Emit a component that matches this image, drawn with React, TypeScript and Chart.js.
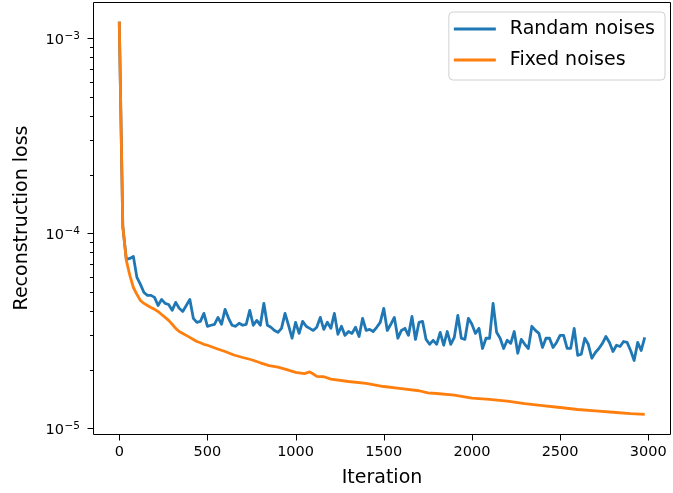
import React, { useEffect, useRef } from "react";
import { Chart, registerables } from "chart.js";

Chart.register(...registerables);

// ---------- data ----------
const iterations = [
  0, 20, 40, 60, 80, 100, 120, 140, 160, 180, 200, 220, 240, 260, 280, 300, 320, 340, 360, 380,
  400, 420, 440, 460, 480, 500, 520, 540, 560, 580, 600, 620, 640, 660, 680, 700, 720, 740, 760, 780,
  800, 820, 840, 860, 880, 900, 920, 940, 960, 980, 1000, 1020, 1040, 1060, 1080, 1100, 1120, 1140, 1160, 1180,
  1200, 1220, 1240, 1260, 1280, 1300, 1320, 1340, 1360, 1380, 1400, 1420, 1440, 1460, 1480, 1500, 1520, 1540, 1560, 1580,
  1600, 1620, 1640, 1660, 1680, 1700, 1720, 1740, 1760, 1780, 1800, 1820, 1840, 1860, 1880, 1900, 1920, 1940, 1960, 1980,
  2000, 2020, 2040, 2060, 2080, 2100, 2120, 2140, 2160, 2180, 2200, 2220, 2240, 2260, 2280, 2300, 2320, 2340, 2360, 2380,
  2400, 2420, 2440, 2460, 2480, 2500, 2520, 2540, 2560, 2580, 2600, 2620, 2640, 2660, 2680, 2700, 2720, 2740, 2760, 2780,
  2800, 2820, 2840, 2860, 2880, 2900, 2920, 2940, 2960, 2980,
];

const randomNoiseLoss = [
  1.22e-3, 1.086e-4, 7.36e-5, 7.44e-5, 7.62e-5, 5.95e-5, 5.48e-5, 4.98e-5, 4.81e-5, 4.81e-5,
  4.70e-5, 4.27e-5, 4.59e-5, 4.38e-5, 4.32e-5, 4.03e-5, 4.43e-5, 4.13e-5, 3.98e-5, 4.27e-5,
  4.59e-5, 3.67e-5, 3.50e-5, 3.54e-5, 3.89e-5, 3.34e-5, 3.38e-5, 3.42e-5, 3.71e-5, 3.42e-5,
  4.08e-5, 3.67e-5, 3.38e-5, 3.34e-5, 3.46e-5, 3.38e-5, 3.42e-5, 4.03e-5, 3.38e-5, 3.58e-5,
  3.38e-5, 4.38e-5, 3.38e-5, 3.30e-5, 3.18e-5, 3.11e-5, 3.26e-5, 3.89e-5, 3.38e-5, 2.90e-5,
  3.50e-5, 3.07e-5, 3.54e-5, 3.34e-5, 3.26e-5, 3.18e-5, 3.30e-5, 3.71e-5, 3.22e-5, 3.50e-5,
  3.26e-5, 3.89e-5, 3.04e-5, 3.34e-5, 3.00e-5, 3.14e-5, 3.07e-5, 3.30e-5, 2.96e-5, 3.67e-5,
  3.18e-5, 3.22e-5, 3.14e-5, 3.30e-5, 3.50e-5, 4.13e-5, 3.18e-5, 3.42e-5, 3.71e-5, 2.90e-5,
  3.18e-5, 3.26e-5, 3.00e-5, 3.75e-5, 2.86e-5, 3.50e-5, 3.54e-5, 2.86e-5, 2.70e-5, 2.83e-5,
  2.70e-5, 3.11e-5, 2.67e-5, 3.14e-5, 2.70e-5, 2.93e-5, 3.80e-5, 2.90e-5, 2.86e-5, 3.67e-5,
  3.42e-5, 3.07e-5, 3.26e-5, 2.57e-5, 2.90e-5, 2.90e-5, 4.38e-5, 3.11e-5, 2.90e-5, 2.57e-5,
  2.83e-5, 2.73e-5, 3.14e-5, 2.43e-5, 2.86e-5, 2.70e-5, 2.57e-5, 3.34e-5, 3.18e-5, 3.07e-5,
  2.60e-5, 2.90e-5, 2.90e-5, 2.60e-5, 2.76e-5, 3.00e-5, 3.00e-5, 2.57e-5, 2.57e-5, 3.26e-5,
  2.37e-5, 2.40e-5, 2.90e-5, 2.70e-5, 2.29e-5, 2.45e-5, 2.57e-5, 2.73e-5, 2.96e-5, 2.76e-5,
  2.48e-5, 2.67e-5, 2.63e-5, 2.79e-5, 2.76e-5, 2.51e-5, 2.23e-5, 2.76e-5, 2.51e-5, 2.93e-5,
];

const fixedIterations = [
  0, 20, 40, 60, 80, 100, 120, 140, 160, 180, 200, 220, 240, 260, 280, 300, 320, 340, 360, 380,
  400, 420, 440, 460, 480, 500, 550, 600, 650, 700, 750, 800, 850, 900, 950, 1000,
  1050, 1080, 1100, 1120, 1160, 1200, 1300, 1400, 1500, 1600, 1700, 1750, 1800, 1900, 2000,
  2100, 2200, 2300, 2400, 2500, 2600, 2700, 2800, 2900, 2980,
];

const fixedNoiseLoss = [
  1.22e-3, 1.086e-4, 7.27e-5, 6.09e-5, 5.28e-5, 4.87e-5, 4.53e-5, 4.38e-5, 4.27e-5, 4.17e-5,
  4.08e-5, 3.98e-5, 3.84e-5, 3.71e-5, 3.58e-5, 3.42e-5, 3.26e-5, 3.14e-5, 3.07e-5, 3.00e-5,
  2.93e-5, 2.86e-5, 2.79e-5, 2.75e-5, 2.70e-5, 2.67e-5, 2.57e-5, 2.48e-5, 2.38e-5, 2.31e-5,
  2.25e-5, 2.17e-5, 2.10e-5, 2.06e-5, 2.00e-5, 1.94e-5,
  1.91e-5, 1.95e-5, 1.90e-5, 1.85e-5, 1.84e-5, 1.79e-5, 1.74e-5, 1.70e-5, 1.64e-5, 1.60e-5,
  1.56e-5, 1.52e-5, 1.51e-5, 1.48e-5, 1.43e-5,
  1.41e-5, 1.38e-5, 1.34e-5, 1.31e-5, 1.28e-5, 1.25e-5, 1.23e-5, 1.21e-5, 1.19e-5, 1.18e-5,
];

const seriesLabels = ["Randam noises", "Fixed noises"];
const seriesColors = ["#1f77b4", "#ff7f0e"];

const xTickValues = [0, 500, 1000, 1500, 2000, 2500, 3000];
const yTickValues = [1e-5, 1e-4, 1e-3];
const yTickBase = "10";
const yTickExponents = ["\u22125", "\u22124", "\u22123"];
const yMinorDecades = [1e-6, 1e-5, 1e-4, 1e-3];
const yMinorFactors = [2, 3, 4, 5, 6, 7, 8, 9];

const xTitle = "Iteration";
const yTitle = "Reconstruction loss";

const FONT = "'DejaVu Sans', 'Noto Sans', sans-serif";

// ---------- plugin: matplotlib-like frame, ticks, y labels, legend ----------
const mplPlugin = {
  id: "mplDecor",
  afterDatasetsDraw(chart: any) {
    const { ctx, chartArea: a, scales } = chart;
    const xs = scales.x;
    const ys = scales.y;
    ctx.save();
    ctx.strokeStyle = "#000";
    ctx.lineWidth = 1;
    const L = Math.round(a.left) + 0.5;
    const T = Math.round(a.top) + 0.5;
    const R = Math.round(a.right) - 0.5;
    const B = Math.round(a.bottom) + 0.5;
    ctx.beginPath();
    ctx.rect(L, T, R - L, B - T);
    ctx.stroke();
    ctx.beginPath();
    for (const v of xTickValues) {
      const px = Math.round(xs.getPixelForValue(v)) + 0.5;
      ctx.moveTo(px, B);
      ctx.lineTo(px, B + 6);
    }
    for (const v of yTickValues) {
      const py = Math.round(ys.getPixelForValue(v)) + 0.5;
      ctx.moveTo(L, py);
      ctx.lineTo(L - 6, py);
    }
    for (const d of yMinorDecades) {
      for (const k of yMinorFactors) {
        const v = k * d;
        if (v < ys.min || v > ys.max) continue;
        const py = Math.round(ys.getPixelForValue(v)) + 0.5;
        ctx.moveTo(L, py);
        ctx.lineTo(L - 3.5, py);
      }
    }
    ctx.stroke();

    // y tick labels, mathtext-like 10^{-n}
    ctx.fillStyle = "#000";
    ctx.textAlign = "right";
    const rightX = a.left - 13;
    yTickValues.forEach((v, i) => {
      const py = ys.getPixelForValue(v);
      ctx.font = `10.5px ${FONT}`;
      const expW = ctx.measureText(yTickExponents[i]).width;
      ctx.textBaseline = "alphabetic";
      ctx.fillText(yTickExponents[i], rightX, py + 1);
      ctx.font = `14.5px ${FONT}`;
      ctx.textBaseline = "middle";
      ctx.fillText(yTickBase, rightX - expW - 0.5, py + 2);
    });
    ctx.restore();
  },
  afterDraw(chart: any) {
    const { ctx, chartArea: a } = chart;
    const datasets = chart.data.datasets;
    ctx.save();
    ctx.font = `19px ${FONT}`;
    let maxW = 0;
    datasets.forEach((ds: any) => {
      maxW = Math.max(maxW, ctx.measureText(ds.label).width);
    });
    const padL = 5;
    const handle = 42;
    const gap = 14;
    const padR = 10;
    const rowH = 31;
    const w = padL + handle + gap + maxW + padR;
    const h = 17 + rowH * (datasets.length - 1) + 20;
    const x0 = a.right - 6 - w;
    const y0 = a.top + 10;
    const r = 4;
    ctx.beginPath();
    ctx.moveTo(x0 + r, y0);
    ctx.lineTo(x0 + w - r, y0);
    ctx.quadraticCurveTo(x0 + w, y0, x0 + w, y0 + r);
    ctx.lineTo(x0 + w, y0 + h - r);
    ctx.quadraticCurveTo(x0 + w, y0 + h, x0 + w - r, y0 + h);
    ctx.lineTo(x0 + r, y0 + h);
    ctx.quadraticCurveTo(x0, y0 + h, x0, y0 + h - r);
    ctx.lineTo(x0, y0 + r);
    ctx.quadraticCurveTo(x0, y0, x0 + r, y0);
    ctx.closePath();
    ctx.fillStyle = "rgba(255,255,255,0.8)";
    ctx.fill();
    ctx.strokeStyle = "#d0d0d0";
    ctx.lineWidth = 1;
    ctx.stroke();
    datasets.forEach((ds: any, i: number) => {
      const cy = y0 + 17 + i * rowH;
      ctx.beginPath();
      ctx.strokeStyle = ds.borderColor;
      ctx.lineWidth = 3;
      ctx.lineCap = "butt";
      ctx.moveTo(x0 + padL, cy);
      ctx.lineTo(x0 + padL + handle, cy);
      ctx.stroke();
      ctx.fillStyle = "#000";
      ctx.textBaseline = "middle";
      ctx.textAlign = "left";
      ctx.fillText(ds.label, x0 + padL + handle + gap, cy);
    });
    ctx.restore();
  },
};

export default function App() {
  const canvasRef = useRef<HTMLCanvasElement | null>(null);

  useEffect(() => {
    const canvas = canvasRef.current;
    if (!canvas) return;
    const chart = new Chart(canvas, {
      type: "line",
      data: {
        datasets: [
          {
            label: seriesLabels[0],
            data: iterations.map((x, i) => ({ x, y: randomNoiseLoss[i] })),
            borderColor: seriesColors[0],
            backgroundColor: seriesColors[0],
            borderWidth: 2.8,
            pointRadius: 0,
            tension: 0,
            borderJoinStyle: "round",
            order: 1,
          },
          {
            label: seriesLabels[1],
            data: fixedIterations.map((x, i) => ({ x, y: fixedNoiseLoss[i] })),
            borderColor: seriesColors[1],
            backgroundColor: seriesColors[1],
            borderWidth: 2.8,
            pointRadius: 0,
            tension: 0,
            borderJoinStyle: "round",
            order: 0,
          },
        ],
      },
      options: {
        responsive: false,
        animation: false,
        devicePixelRatio: 1,
        layout: { padding: { top: 2, right: 2, left: 0, bottom: 0 }, autoPadding: false },
        plugins: { legend: { display: false }, tooltip: { enabled: false } },
        scales: {
          x: {
            type: "linear",
            min: -149,
            max: 3129,
            afterBuildTicks: (s: any) => {
              s.ticks = xTickValues.map((v) => ({ value: v }));
            },
            afterFit: (s: any) => {
              s.height = 59;
              s.paddingLeft = 0;
              s.paddingRight = 0;
              s.paddingTop = 0;
              s.paddingBottom = 0;
            },
            grid: { display: false, drawTicks: false },
            border: { display: false },
            ticks: {
              autoSkip: false,
              maxRotation: 0,
              padding: 10,
              color: "#000",
              font: { family: FONT, size: 14.5 },
              callback: (v: any) => String(v),
            },
            title: {
              display: true,
              text: xTitle,
              color: "#000",
              font: { family: FONT, size: 19 },
              padding: { top: 0, bottom: 4 },
            },
          },
          y: {
            type: "logarithmic",
            min: 9.36e-6,
            max: 1.538e-3,
            afterBuildTicks: (s: any) => {
              s.ticks = yTickValues.map((v) => ({ value: v }));
            },
            afterFit: (s: any) => {
              s.width = 93;
              s.paddingLeft = 0;
              s.paddingRight = 0;
              s.paddingTop = 0;
              s.paddingBottom = 0;
            },
            grid: { display: false, drawTicks: false },
            border: { display: false },
            ticks: { display: false },
            title: {
              display: true,
              text: yTitle,
              color: "#000",
              font: { family: FONT, size: 19 },
              padding: { top: 11, bottom: 0 },
            },
          },
        },
      },
      plugins: [mplPlugin],
    } as any);
    return () => chart.destroy();
  }, []);

  return (
    <div style={{ position: "absolute", left: 0, top: 0, width: 673, height: 493, background: "#fff" }}>
      <canvas ref={canvasRef} width={673} height={493} style={{ display: "block" }} />
    </div>
  );
}
